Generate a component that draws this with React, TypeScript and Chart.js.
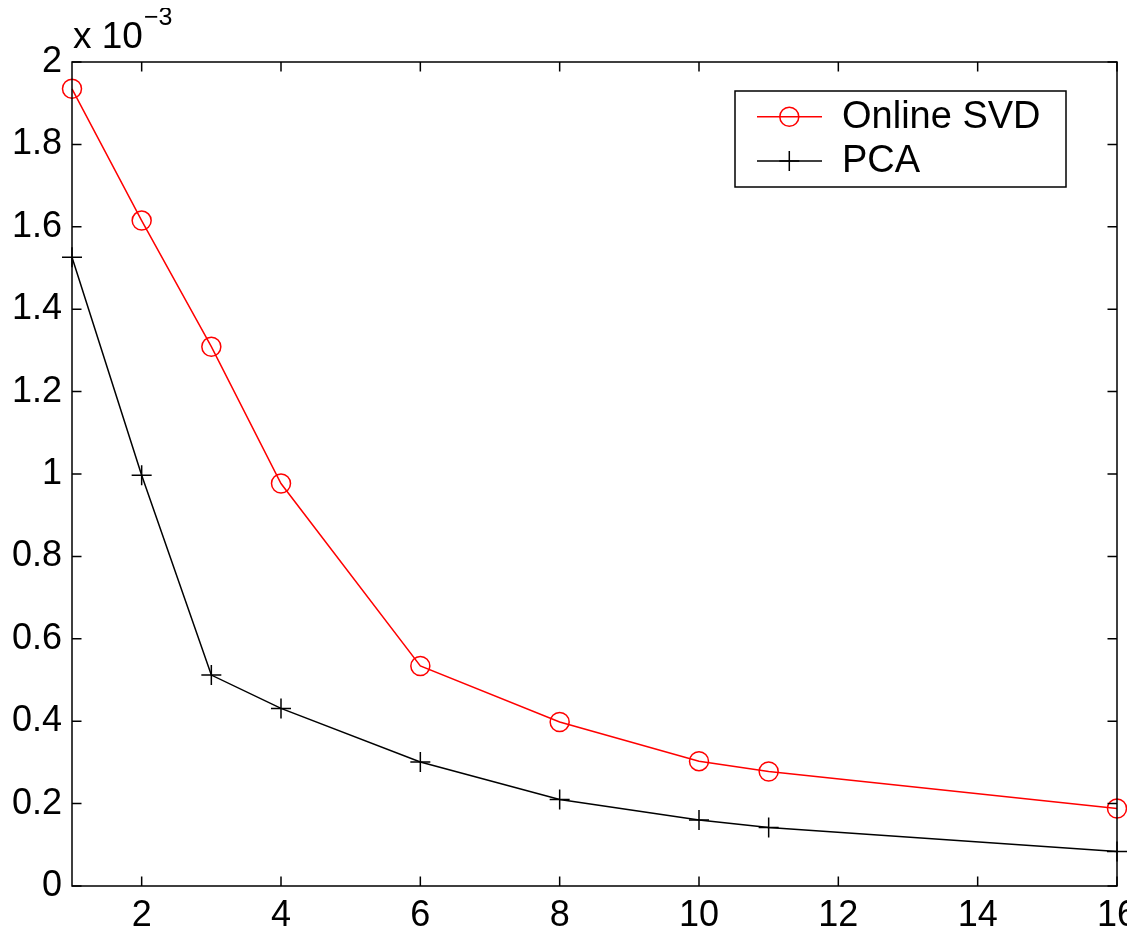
import React, { useEffect, useRef } from "react";
import { Chart, registerables } from "chart.js";

Chart.register(...registerables);

// ---- data (values in units of 10^-3) ----
const xValues = [1, 2, 3, 4, 6, 8, 10, 11, 16];
const onlineSvd = [1.935, 1.615, 1.309, 0.977, 0.534, 0.398, 0.303, 0.278, 0.188];
const pca = [1.526, 0.997, 0.512, 0.431, 0.301, 0.21, 0.16, 0.142, 0.084];
const xTicks = [2, 4, 6, 8, 10, 12, 14, 16];
const yTicks = [0, 0.2, 0.4, 0.6, 0.8, 1, 1.2, 1.4, 1.6, 1.8, 2];
const seriesLabels = ["Online SVD", "PCA"];
const yExponent = "−3";

const FONT = "'Liberation Sans', Arial, Helvetica, sans-serif";
const CANVAS_W = 1200;
const CANVAS_H = 928;

const axesBoxPlugin = {
  id: "axesBox",
  afterDatasetsDraw(chart: any) {
    const { ctx, chartArea } = chart;
    const { left, right, top, bottom } = chartArea;
    const xs = chart.scales.x;
    const ys = chart.scales.y;
    const tl = 9.5;
    ctx.save();
    ctx.strokeStyle = "#000";
    ctx.lineWidth = 1.5;
    ctx.beginPath();
    ctx.rect(left, top, right - left, bottom - top);
    ctx.stroke();
    ctx.beginPath();
    for (const v of xTicks) {
      const px = xs.getPixelForValue(v);
      ctx.moveTo(px, bottom);
      ctx.lineTo(px, bottom - tl);
      ctx.moveTo(px, top);
      ctx.lineTo(px, top + tl);
    }
    for (const v of yTicks) {
      const py = ys.getPixelForValue(v);
      ctx.moveTo(left, py);
      ctx.lineTo(left + tl, py);
      ctx.moveTo(right, py);
      ctx.lineTo(right - tl, py);
    }
    ctx.stroke();

    // exponent label
    ctx.fillStyle = "#000";
    ctx.textBaseline = "alphabetic";
    ctx.textAlign = "left";
    ctx.font = `37px ${FONT}`;
    const base = "x 10";
    ctx.fillText(base, left + 1, 40);
    const w = ctx.measureText(base).width;
    ctx.font = `25px ${FONT}`;
    ctx.fillText(yExponent, left + 1 + w + 1, 17);
    ctx.restore();
  },
  afterDraw(chart: any) {
    const { ctx } = chart;
    const datasets = chart.data.datasets;
    const bx = 727, by = 83, bw = 331, bh = 96;
    ctx.save();
    ctx.fillStyle = "#fff";
    ctx.fillRect(bx, by, bw, bh);
    ctx.strokeStyle = "#000";
    ctx.lineWidth = 1.5;
    ctx.strokeRect(bx, by, bw, bh);
    const rows = [by + 25.7, by + 70];
    datasets.forEach((ds: any, i: number) => {
      const y = rows[i];
      ctx.strokeStyle = ds.borderColor;
      ctx.lineWidth = 1.5;
      ctx.beginPath();
      ctx.moveTo(749, y);
      ctx.lineTo(814, y);
      ctx.stroke();
      const mx = 781.3;
      ctx.beginPath();
      if (ds.pointStyle === "circle") {
        ctx.arc(mx, y, 9.5, 0, Math.PI * 2);
      } else {
        ctx.moveTo(mx - 10, y);
        ctx.lineTo(mx + 10, y);
        ctx.moveTo(mx, y - 10);
        ctx.lineTo(mx, y + 10);
      }
      ctx.stroke();
      ctx.fillStyle = "#000";
      ctx.font = `38px ${FONT}`;
      ctx.textBaseline = "middle";
      ctx.textAlign = "left";
      ctx.fillText(ds.label, 834, y + 1);
    });
    ctx.restore();
  },
};

export default function App() {
  const ref = useRef<HTMLCanvasElement | null>(null);

  useEffect(() => {
    if (!ref.current) return;
    const chart = new Chart(ref.current, {
      type: "line",
      data: {
        datasets: [
          {
            label: seriesLabels[0],
            data: xValues.map((x, i) => ({ x, y: onlineSvd[i] })),
            borderColor: "#ff0000",
            backgroundColor: "rgba(0,0,0,0)",
            borderWidth: 1.5,
            pointStyle: "circle",
            pointRadius: 9.5,
            pointBorderWidth: 1.5,
            pointBorderColor: "#ff0000",
            pointBackgroundColor: "rgba(0,0,0,0)",
            tension: 0,
            clip: false as any,
          },
          {
            label: seriesLabels[1],
            data: xValues.map((x, i) => ({ x, y: pca[i] })),
            borderColor: "#000000",
            backgroundColor: "rgba(0,0,0,0)",
            borderWidth: 1.5,
            pointStyle: "cross",
            pointRadius: 10,
            pointBorderWidth: 1.5,
            pointBorderColor: "#000000",
            tension: 0,
            clip: false as any,
          },
        ],
      },
      options: {
        animation: false,
        responsive: false,
        maintainAspectRatio: false,
        devicePixelRatio: 1,
        layout: { padding: { left: 0, top: 54, right: CANVAS_W - 1109, bottom: 0 } },
        plugins: {
          legend: { display: false },
          tooltip: { enabled: false },
        },
        events: [],
        scales: {
          x: {
            type: "linear",
            min: 1,
            max: 16,
            grid: { display: false, drawTicks: false },
            border: { display: false },
            afterBuildTicks: (scale: any) => {
              scale.ticks = xTicks.map((v) => ({ value: v }));
            },
            afterFit: (scale: any) => {
              scale.height = CANVAS_H - 878;
            },
            ticks: {
              padding: 8,
              maxRotation: 0,
              autoSkip: false,
              color: "#000",
              font: { family: FONT, size: 36 },
              callback: (v: any) => String(v),
            },
          },
          y: {
            type: "linear",
            min: 0,
            max: 2,
            grid: { display: false, drawTicks: false },
            border: { display: false },
            afterBuildTicks: (scale: any) => {
              scale.ticks = yTicks.map((v) => ({ value: v }));
            },
            afterFit: (scale: any) => {
              scale.width = 64;
            },
            ticks: {
              padding: 10,
              autoSkip: false,
              color: "#000",
              font: { family: FONT, size: 36 },
              callback: (v: any) => String(Math.round(Number(v) * 10) / 10),
            },
          },
        },
      },
      plugins: [axesBoxPlugin],
    });
    return () => chart.destroy();
  }, []);

  return (
    <div style={{ width: 1119, height: CANVAS_H, overflow: "hidden", background: "#fff" }}>
      <canvas
        ref={ref}
        width={CANVAS_W}
        height={CANVAS_H}
        style={{ width: CANVAS_W, height: CANVAS_H, display: "block" }}
      />
    </div>
  );
}
